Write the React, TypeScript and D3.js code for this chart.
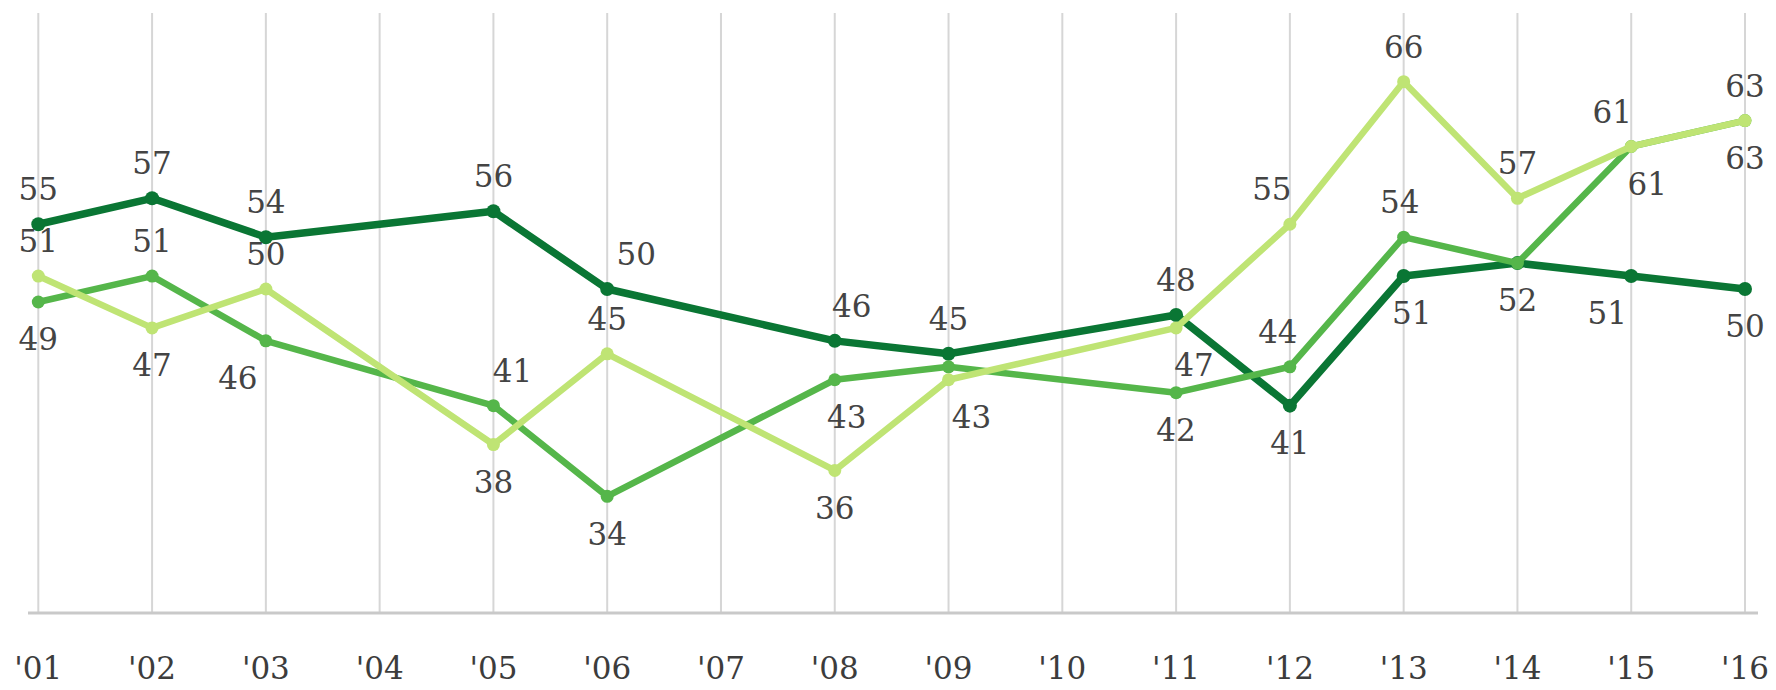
import React from "react";
import * as d3 from "d3";

const categories = ["'01", "'02", "'03", "'04", "'05", "'06", "'07", "'08", "'09", "'10", "'11", "'12", "'13", "'14", "'15", "'16"];
const darkValues = [55, 57, 54, null, 56, 50, null, 46, 45, null, 48, 41, 51, 52, 51, 50];
const mediumValues = [49, 51, 46, null, 41, 34, null, 43, 44, null, 42, 44, 54, 52, 61, 63];
const lightValues = [51, 47, 50, null, 38, 45, null, 36, 43, null, 47, 55, 66, 57, 61, 63];

// label placement (t = above, b = below, "" = none) and horizontal nudges
const darkPos = ["t", "t", "t", "", "t", "t", "", "t", "t", "", "t", "b", "b", "b", "b", "b"];
const darkDx = [0, 0, 0, 0, 0, 29, 0, 17, 0, 0, 0, 0, 8, 0, -24, 0];
const mediumPos = ["b", "t", "b", "", "t", "b", "", "b", "", "", "b", "t", "t", "", "b", "b"];
const mediumDx = [0, 0, -28, 0, 19, 0, 0, 12, 0, 0, 0, -12, -4, 0, 16, 0];
const lightPos = ["t", "b", "t", "", "b", "t", "", "b", "b", "", "b", "t", "t", "t", "t", "t"];
const lightDx = [0, 0, 0, 0, 0, 0, 0, 0, 23, 0, 18, -18, 0, 0, -19, 0];

const W = 1776;
const H = 690;
const FONT = "'DejaVu Serif', 'Liberation Serif', serif";
const FS = 31;

export default function App() {
  const x = d3.scalePoint<string>().domain(categories).range([38.3, 1745]);
  const y = d3.scaleLinear().domain([25, 71.3]).range([613, 13]);

  const series = [
    { name: "dark", values: darkValues, pos: darkPos, dx: darkDx, color: "#0a7634", width: 7.5, r: 7 },
    { name: "medium", values: mediumValues, pos: mediumPos, dx: mediumDx, color: "#55b64a", width: 6.5, r: 6.5 },
    { name: "light", values: lightValues, pos: lightPos, dx: lightDx, color: "#bfe474", width: 6.5, r: 6.5 },
  ];

  const line = d3
    .line<{ c: string; v: number }>()
    .x((d) => x(d.c) as number)
    .y((d) => y(d.v));

  const baseOff = FS * 0.36;

  return (
    <svg width={W} height={H} style={{ position: "absolute", left: 0, top: 0, background: "#fff" }}>
      {categories.map((c) => (
        <line key={"g" + c} x1={x(c)} x2={x(c)} y1={y(71.3)} y2={y(25)} stroke="#d6d6d6" strokeWidth={2} />
      ))}
      <line x1={28} x2={1758} y1={y(25)} y2={y(25)} stroke="#c9c9c9" strokeWidth={3} />
      {categories.map((c) => (
        <text
          key={"t" + c}
          x={x(c)}
          y={679}
          textAnchor="middle"
          fontFamily={FONT}
          fontSize={FS}
          fill="#3c3c3c"
        >
          {c}
        </text>
      ))}
      {series.map((s) => {
        const pts = categories
          .map((c, i) => ({ c, v: s.values[i] as number, i }))
          .filter((d) => d.v !== null && d.v !== undefined);
        return (
          <g key={s.name}>
            <path d={line(pts) || ""} fill="none" stroke={s.color} strokeWidth={s.width} strokeLinejoin="round" />
            {pts.map((d) => (
              <circle key={"c" + d.c} cx={x(d.c)} cy={y(d.v)} r={s.r} fill={s.color} />
            ))}
          </g>
        );
      })}
      {series.map((s) => {
        const pts = categories
          .map((c, i) => ({ c, v: s.values[i] as number, i }))
          .filter((d) => d.v !== null && d.v !== undefined && s.pos[d.i] !== "");
        return (
          <g key={"l" + s.name}>
            {pts.map((d) => {
              const cy = s.pos[d.i] === "t" ? y(d.v) - 35 : y(d.v) + 37;
              return (
                <text
                  key={"lb" + d.c}
                  x={(x(d.c) as number) + s.dx[d.i]}
                  y={cy + baseOff}
                  textAnchor="middle"
                  fontFamily={FONT}
                  fontSize={FS}
                  fill="#444"
                >
                  {d.v}
                </text>
              );
            })}
          </g>
        );
      })}
    </svg>
  );
}
